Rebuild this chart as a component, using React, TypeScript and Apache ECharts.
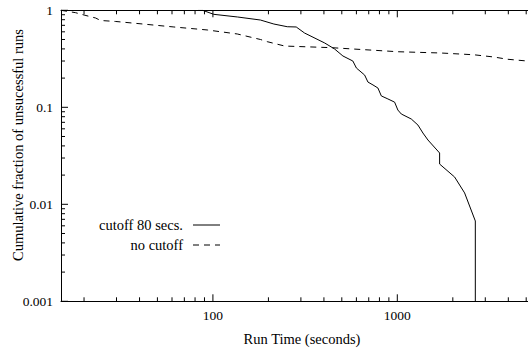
import React, { useEffect, useRef } from "react";
import * as echarts from "echarts";

// ---- data ----
const cutoffTimes = [83, 88, 101, 136, 181, 214, 253, 283, 314, 404, 457, 507, 574, 600, 665, 693, 738, 785, 819, 889, 967, 1007, 1051, 1191, 1294, 1377, 1466, 1696, 1696, 2046, 2317, 2649, 2649];
const cutoffFractions = [1, 1, 0.909, 0.853, 0.794, 0.722, 0.677, 0.673, 0.583, 0.46, 0.399, 0.338, 0.3, 0.254, 0.215, 0.182, 0.17, 0.158, 0.131, 0.122, 0.113, 0.0937, 0.0853, 0.0757, 0.0656, 0.0543, 0.046, 0.0338, 0.026, 0.0191, 0.0131, 0.00673, 0.001];

const noCutoffTimes = [15, 18, 20, 23.1, 24.6, 29.7, 41.4, 61.4, 93.2, 135.6, 181, 197, 245, 438, 1007, 1718, 2600, 3342, 3950, 5070];
const noCutoffFractions = [1, 0.945, 0.894, 0.833, 0.785, 0.767, 0.723, 0.673, 0.627, 0.57, 0.5, 0.475, 0.428, 0.412, 0.374, 0.363, 0.348, 0.33, 0.313, 0.3];

const seriesNames = ["cutoff 80 secs.", "no cutoff"];
const xMin = 15;
const xMax = 10000;
const yMin = 0.001;
const yMax = 1;

const xMajorTicks = [100, 1000];
const xMinorTicks = [20, 30, 40, 50, 60, 70, 80, 90, 200, 300, 400, 500, 600, 700, 800, 900, 2000, 3000, 4000, 5000, 6000, 7000, 8000, 9000];
const yMajorTicks = [0.001, 0.01, 0.1, 1];
const yMinorTicks = [0.002, 0.003, 0.004, 0.005, 0.006, 0.007, 0.008, 0.009, 0.02, 0.03, 0.04, 0.05, 0.06, 0.07, 0.08, 0.09, 0.2, 0.3, 0.4, 0.5, 0.6, 0.7, 0.8, 0.9];

const FONT = "Liberation Serif";

const powerLabel = (v: number) => {
  if (v >= xMax) return "";
  const l = Math.log10(v);
  return Math.abs(l - Math.round(l)) < 1e-6 ? String(+v.toPrecision(6)) : "";
};

export default function App() {
  const ref = useRef<HTMLDivElement>(null);
  useEffect(() => {
    if (!ref.current) return;
    const chart = echarts.init(ref.current, undefined, { renderer: "svg" });

    const tickData: number[][] = [];
    xMajorTicks.forEach((v) => tickData.push([v, 0.5, 0, 1]));
    xMinorTicks.forEach((v) => tickData.push([v, 0.5, 0, 0]));
    yMajorTicks.forEach((v) => tickData.push([50, v, 1, 1]));
    yMinorTicks.forEach((v) => tickData.push([50, v, 1, 0]));

    const tickStyle = { stroke: "#000", lineWidth: 1 };
    const textBase = { fontFamily: FONT, fontSize: 14.5, fill: "#000" };

    chart.setOption({
      animation: false,
      backgroundColor: "#fff",
      textStyle: { fontFamily: FONT },
      grid: { left: 61, top: 10.3, width: 520.7, height: 291, containLabel: false, outerBoundsMode: "none" },
      xAxis: [
        {
          type: "log",
          logBase: 10,
          min: xMin,
          max: xMax,
          position: "bottom",
          axisLine: { show: true, lineStyle: { color: "#000", width: 1 } },
          axisTick: { show: false },
          splitLine: { show: false },
          minorTick: { show: false },
          axisLabel: {
            formatter: powerLabel,
            color: "#000",
            fontFamily: FONT,
            fontSize: 13.5,
            margin: 7,
            showMinLabel: false,
            showMaxLabel: false,
          },
        },
        {
          type: "log",
          logBase: 10,
          min: xMin,
          max: xMax,
          position: "top",
          axisLine: { show: true, lineStyle: { color: "#000", width: 1 } },
          axisTick: { show: false },
          splitLine: { show: false },
          axisLabel: { show: false },
        },
      ],
      yAxis: {
        type: "log",
        logBase: 10,
        min: yMin,
        max: yMax,
        axisLine: { show: true, lineStyle: { color: "#000", width: 1 } },
        axisTick: { show: false },
        splitLine: { show: false },
        axisLabel: {
          formatter: powerLabel,
          color: "#000",
          fontFamily: FONT,
          fontSize: 13.5,
          margin: 8,
        },
      },
      series: [
        {
          name: seriesNames[0],
          type: "line",
          data: cutoffTimes.map((t, i) => [t, cutoffFractions[i]]),
          showSymbol: false,
          symbol: "none",
          lineStyle: { color: "#000", width: 1 },
          z: 3,
        },
        {
          name: seriesNames[1],
          type: "line",
          data: noCutoffTimes.map((t, i) => [t, noCutoffFractions[i]]),
          showSymbol: false,
          symbol: "none",
          lineStyle: { color: "#000", width: 1, type: [6, 5] },
          z: 3,
        },
        {
          type: "custom",
          clip: false,
          silent: true,
          z: 5,
          encode: { x: 0, y: 1 },
          data: tickData,
          renderItem: (params: any, api: any) => {
            const isY = api.value(2) === 1;
            const len = api.value(3) === 1 ? 7 : 4;
            if (!isY) {
              const v = api.value(0);
              const top = api.coord([v, yMax]);
              const bot = api.coord([v, yMin]);
              return {
                type: "group",
                children: [
                  { type: "line", shape: { x1: bot[0], y1: bot[1], x2: bot[0], y2: bot[1] - len }, style: tickStyle },
                  { type: "line", shape: { x1: top[0], y1: top[1], x2: top[0], y2: top[1] + len }, style: tickStyle },
                ],
              };
            }
            const v = api.value(1);
            const p = api.coord([xMin, v]);
            return {
              type: "line",
              shape: { x1: p[0], y1: p[1], x2: p[0] + len, y2: p[1] },
              style: tickStyle,
            };
          },
        },
      ],
      graphic: [
        {
          type: "text",
          x: 183,
          y: 225,
          style: { ...textBase, text: seriesNames[0], textAlign: "right", textVerticalAlign: "middle" },
        },
        { type: "line", shape: { x1: 193, y1: 225, x2: 220, y2: 225 }, style: { stroke: "#000", lineWidth: 1 } },
        {
          type: "text",
          x: 183,
          y: 245,
          style: { ...textBase, text: seriesNames[1], textAlign: "right", textVerticalAlign: "middle" },
        },
        { type: "line", shape: { x1: 193, y1: 245, x2: 220, y2: 245 }, style: { stroke: "#000", lineWidth: 1, lineDash: [6, 5] } },
        {
          type: "text",
          x: 302,
          y: 339,
          style: { ...textBase, text: "Run Time (seconds)", textAlign: "center", textVerticalAlign: "middle" },
        },
        {
          type: "text",
          x: 18,
          y: 145,
          rotation: Math.PI / 2,
          style: { ...textBase, text: "Cumulative fraction of unsucessful runs", textAlign: "center", textVerticalAlign: "middle" },
        },
      ],
    });
    return () => chart.dispose();
  }, []);

  return (
    <div style={{ position: "absolute", left: 0, top: 0, width: 528, height: 352, overflow: "hidden", background: "#fff" }}>
      <div ref={ref} style={{ width: 528, height: 352 }} />
    </div>
  );
}
